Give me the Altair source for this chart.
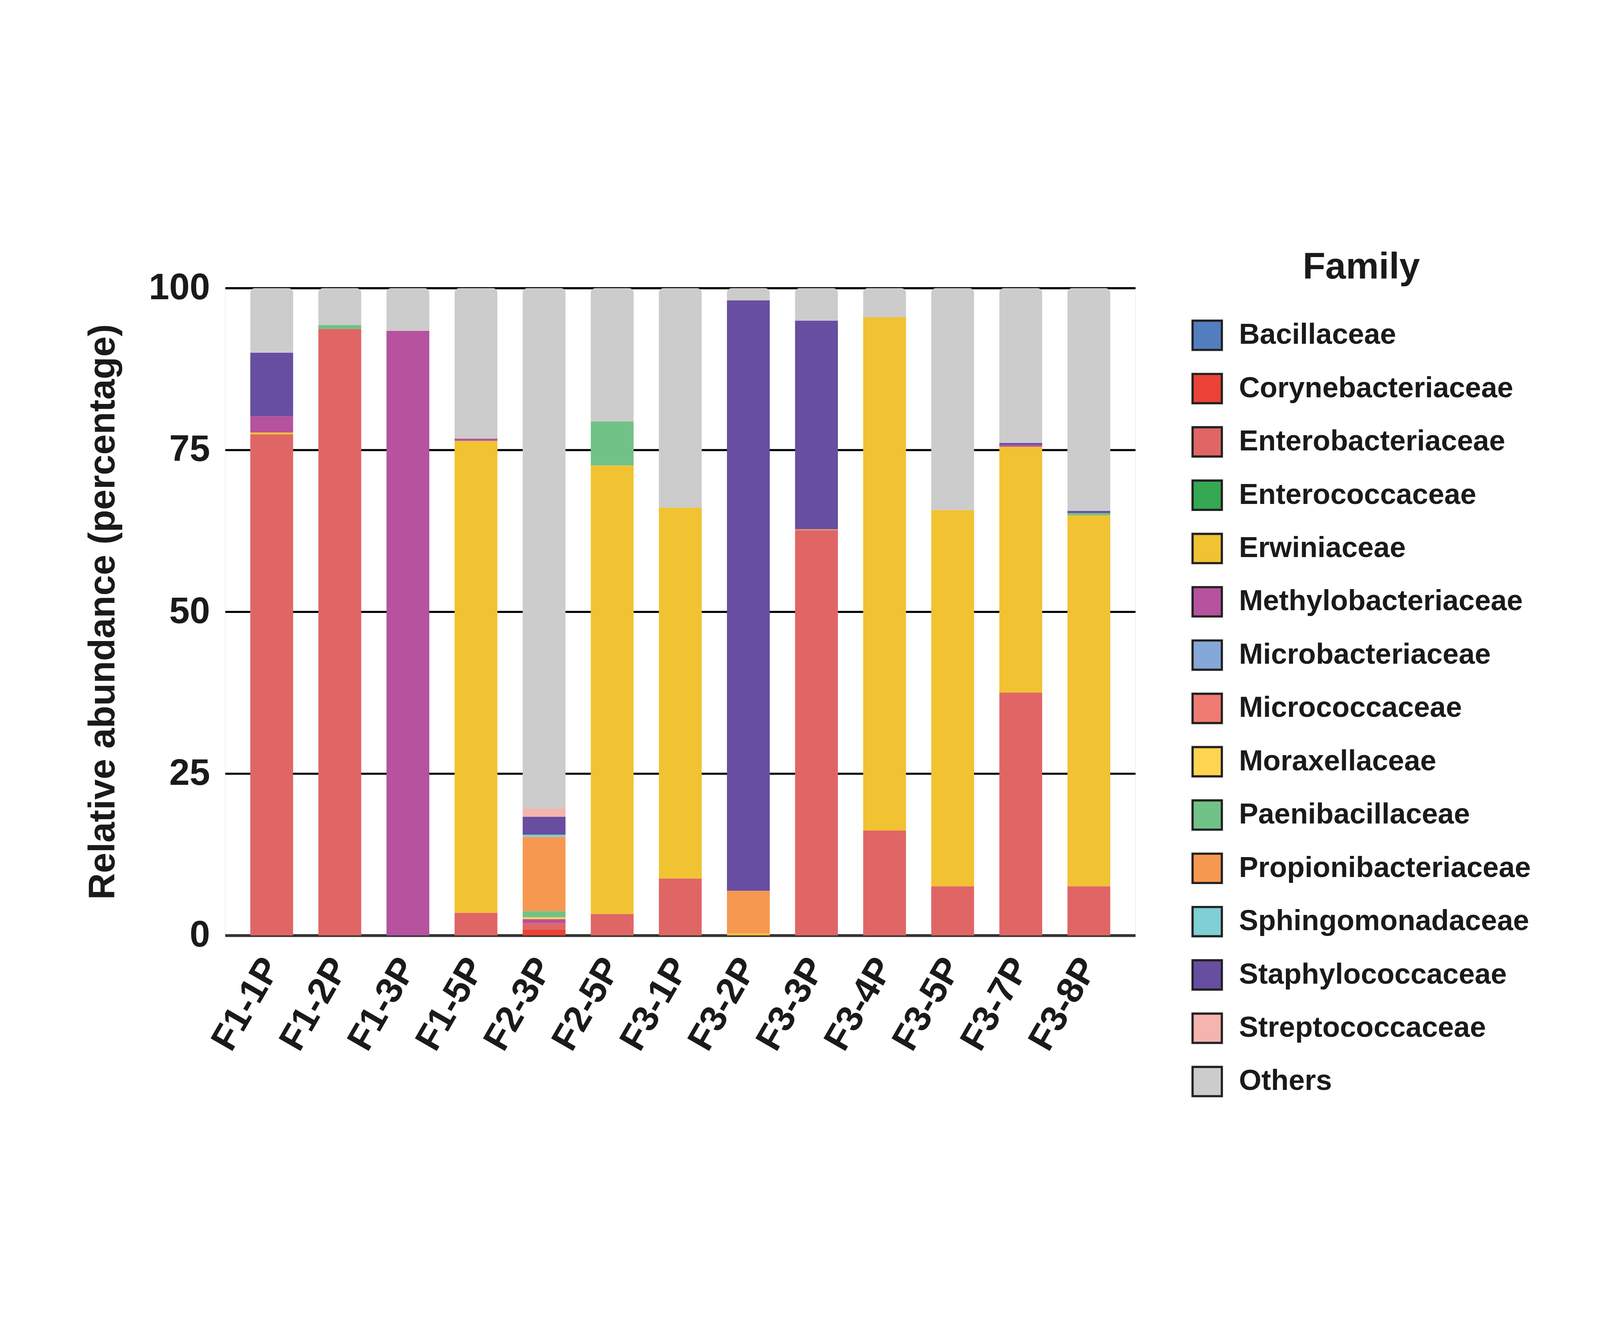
import altair as alt
import pandas as pd

samples = ["F1-1P", "F1-2P", "F1-3P", "F1-5P", "F2-3P", "F2-5P", "F3-1P",
           "F3-2P", "F3-3P", "F3-4P", "F3-5P", "F3-7P", "F3-8P"]

families = ["Bacillaceae", "Corynebacteriaceae", "Enterobacteriaceae",
            "Enterococcaceae", "Erwiniaceae", "Methylobacteriaceae",
            "Microbacteriaceae", "Micrococcaceae", "Moraxellaceae",
            "Paenibacillaceae", "Propionibacteriaceae", "Sphingomonadaceae",
            "Staphylococcaceae", "Streptococcaceae", "Others"]

colors = ["#527EC0", "#EA4335", "#E06666", "#34A853", "#F1C232", "#B6529E",
          "#86A8D8", "#F07B72", "#FFD54F", "#71C287", "#F79851", "#7ED0D5",
          "#674EA0", "#F6B4AE", "#CCCCCC"]

#                     F1-1P F1-2P F1-3P F1-5P F2-3P  F2-5P F3-1P F3-2P F3-3P F3-4P F3-5P F3-7P F3-8P
bacillaceae          = [0,    0,    0,    0,    0,     0,    0,    0,    0,    0,    0,    0,    0]
corynebacteriaceae   = [0,    0,    0,    0,    0.93,  0,    0,    0,    0,    0,    0,    0,    0]
enterobacteriaceae   = [77.4, 93.7, 0,    3.5,  0.95,  3.3,  8.8,  0,    62.6, 16.2, 7.6,  37.5, 7.6]
enterococcaceae      = [0,    0,    0,    0,    0,     0,    0,    0,    0,    0,    0,    0,    0]
erwiniaceae          = [0.3,  0,    0,    72.9, 0,     69.3, 57.3, 0.3,  0,    79.3, 58.1, 38.0, 57.3]
methylobacteriaceae  = [2.5,  0,    93.4, 0.33, 0.62,  0,    0,    0,    0,    0,    0,    0.28, 0]
microbacteriaceae    = [0,    0,    0,    0,    0,     0,    0,    0,    0,    0,    0,    0,    0]
micrococcaceae       = [0,    0,    0,    0,    0,     0,    0,    0,    0,    0,    0,    0,    0]
moraxellaceae        = [0,    0,    0,    0,    0.31,  0,    0,    0,    0,    0,    0,    0,    0]
paenibacillaceae     = [0,    0.6,  0,    0,    0.95,  6.8,  0,    0,    0,    0,    0,    0,    0.33]
propionibacteriaceae = [0,    0,    0,    0,    11.46, 0,    0,    6.6,  0.15, 0,    0,    0,    0]
sphingomonadaceae    = [0,    0,    0,    0,    0.34,  0,    0,    0,    0,    0,    0,    0,    0]
staphylococcaceae    = [9.8,  0,    0,    0,    2.79,  0,    0,    91.2, 32.2, 0,    0,    0.3,  0.33]
streptococcaceae     = [0,    0,    0,    0,    1.24,  0,    0,    0,    0,    0,    0,    0,    0]
others               = [10.0, 5.7,  6.6,  23.27, 80.41, 20.6, 33.9, 1.9,  5.05, 4.5,  34.3, 23.92, 34.44]

series = [bacillaceae, corynebacteriaceae, enterobacteriaceae, enterococcaceae,
          erwiniaceae, methylobacteriaceae, microbacteriaceae, micrococcaceae,
          moraxellaceae, paenibacillaceae, propionibacteriaceae,
          sphingomonadaceae, staphylococcaceae, streptococcaceae, others]

rows = []
for fi, (fam, vals) in enumerate(zip(families, series)):
    for s, v in zip(samples, vals):
        if v > 0:
            rows.append({"sample": s, "family": fam, "idx": fi, "value": v})
df = pd.DataFrame(rows)

FONT = "Liberation Sans"
TXT = "#1a1a1a"

color_enc = alt.Color(
    "family:N",
    scale=alt.Scale(domain=families, range=colors),
    legend=alt.Legend(
        title="Family", orient="none", legendX=3499, legendY=-140, padding=0,
        symbolType="square", symbolSize=11236, symbolStrokeWidth=8,
        symbolStrokeColor="#222222", symbolOpacity=1,
        labelFont=FONT, labelFontSize=104.5, labelFontWeight="bold",
        labelColor=TXT, labelOffset=58, labelLimit=3000, rowPadding=55,
        titleFont=FONT, titleFontSize=134, titleFontWeight="bold",
        titleColor=TXT, titleAnchor="middle", titlePadding=120,
        titleLimit=3000, values=families,
    ),
)

x_enc = alt.X(
    "sample:N", sort=samples,
    scale=alt.Scale(paddingInner=0.371, paddingOuter=0.369),
    axis=alt.Axis(
        title=None, labelAngle=-60, labelAlign="right", labelBaseline="middle",
        labelFont=FONT, labelFontSize=133, labelFontWeight="bold",
        labelColor=TXT, labelPadding=92, labelLimit=3000, ticks=False,
        domain=True, domainColor="#333333", domainWidth=10, grid=False,
    ),
)

y_enc = alt.Y(
    "y0:Q",
    scale=alt.Scale(domain=[0, 100], nice=False, zero=True),
    axis=alt.Axis(
        values=[0, 25, 50, 75, 100], format="d",
        title="Relative abundance (percentage)",
        titleFont=FONT, titleFontSize=133, titleFontWeight="bold",
        titleColor=TXT, titleAngle=-90, titleX=-402, titleY=1172,
        titleBaseline="alphabetic", titleAlign="center", titleLimit=5000,
        labelFont=FONT, labelFontSize=133, labelFontWeight="bold",
        labelColor=TXT, labelPadding=55, labelLimit=3000, ticks=False,
        domain=False, grid=True, gridColor="#000000", gridWidth=7.5,
    ),
)

base = alt.Chart(df).transform_stack(
    stack="value", groupby=["sample"], as_=["y0", "y1"],
    sort=[alt.SortField("idx", order="ascending")],
)

bars = base.transform_filter(alt.datum.family != "Others").mark_bar().encode(
    x=x_enc, y=y_enc, y2="y1:Q", color=color_enc,
)

top = base.transform_filter(alt.datum.family == "Others").mark_bar(
    cornerRadiusTopLeft=17, cornerRadiusTopRight=17
).encode(
    x=x_enc, y=y_enc, y2="y1:Q", color=color_enc,
)

chart = alt.layer(bars, top).properties(
    width=3296, height=2344,
    padding={"left": 804, "top": 330, "right": 1671, "bottom": 712},
    autosize=alt.AutoSizeParams(type="none"),
    background="white",
).configure_view(stroke=None).configure(font=FONT)

chart.save("out.html", embed_options={"renderer": "svg", "actions": False})
